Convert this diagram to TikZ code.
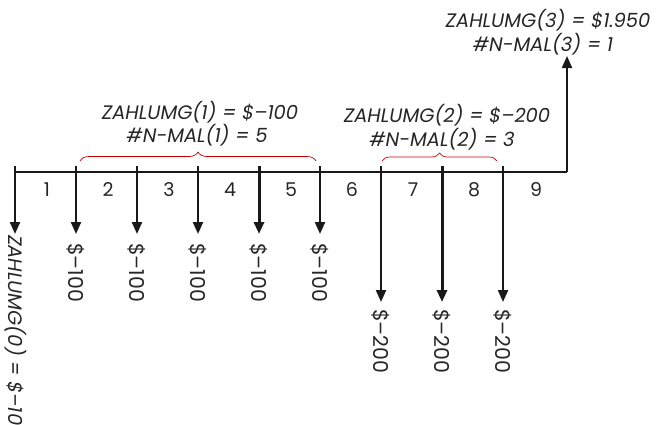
\documentclass[tikz,border=0pt]{standalone}
\usepackage{fontspec}
\setmainfont{Poppins}
\usetikzlibrary{arrows.meta,decorations.pathreplacing}
\begin{document}
\begin{tikzpicture}[x=1pt,y=-1pt,
  axis/.style={line width=1.6pt, black!90},
  flow/.style={line width=2.1pt, black!90, -{Triangle[length=12pt,width=10pt]}},
  flowb/.style={flow, line width=3pt},
  brc/.style={red!80!black, line width=0.7pt, decorate, decoration={brace,amplitude=9pt}},
  num/.style={font=\fontsize{19}{19}\selectfont, text=black!85},
  amt/.style={font=\fontsize{20.5}{20.5}\selectfont, text=black!85, rotate=-90, anchor=west, inner sep=0pt},
  lbl/.style={font=\itshape\fontsize{19.5}{19.5}\selectfont, text=black!85, inner sep=0pt}]
\useasboundingbox (0,0) rectangle (658,424);
% tick positions
\foreach \n/\x in {0/15,1/76,2/137,3/198,4/259,5/320,6/381,7/442,8/503,9/567}{
  \coordinate (t\n) at (\x,172);
  \coordinate (u\n) at (\x,166);
}
\coordinate (d0) at (15,234);
\foreach \n/\x in {1/76,2/137,3/198,4/259,5/320}{\coordinate (d\n) at (\x,234);}
\foreach \n/\x in {6/381,7/442,8/503}{\coordinate (d\n) at (\x,302);}
\coordinate (up) at (567,56);
% axis
\draw[axis] (t0) -- (t9);
% period numbers
\foreach \n/\x in {1/47,2/108,3/169,4/230,5/291,6/352,7/413,8/474,9/536}{
  \node[num] (p\n) at (\x,190) {\n};
}
% flows
\draw[flow] (u0) -- (d0);
\draw[flow] (u1) -- (d1);
\draw[flow] (u2) -- (d2);
\draw[flow] (u3) -- (d3);
\draw[flowb] (u4) -- (d4);
\draw[flow] (u5) -- (d5);
\draw[flow] (u6) -- (d6);
\draw[flowb] (u7) -- (d7);
\draw[flow] (u8) -- (d8);
\draw[flow] (t9) -- (up);
% amounts
\foreach \n in {1,...,5}{\node[amt] (a\n) at ([yshift=-9pt]d\n) {\$–100};}
\foreach \n in {6,7,8}{\node[amt] (a\n) at ([yshift=-7pt]d\n) {\$–200};}
\node[lbl, rotate=-90, anchor=base west] (a0) at (9,235) {ZAHLUMG(0) = \$–100};
% braces
\coordinate (b1l) at (80,161);
\coordinate (b1r) at (316,161);
\coordinate (b2l) at (382,161);
\coordinate (b2r) at (497,161);
\draw[brc] (b1l) -- (b1r);
\draw[brc, decoration={amplitude=8pt}] (b2l) -- (b2r);
% group labels
\node[lbl] (z1) at (200,112) {ZAHLUMG(1) = \$–100};
\node[lbl] (n1) at (197,135) {\#N-MAL(1) = 5};
\node[lbl] (z2) at (447,115) {ZAHLUMG(2) = \$–200};
\node[lbl] (n2) at (442,139) {\#N-MAL(2) = 3};
\node[lbl] (z3) at (548,20) {ZAHLUMG(3) = \$1.950};
\node[lbl] (n3) at (543,44) {\#N-MAL(3) = 1};
\end{tikzpicture}
\end{document}
